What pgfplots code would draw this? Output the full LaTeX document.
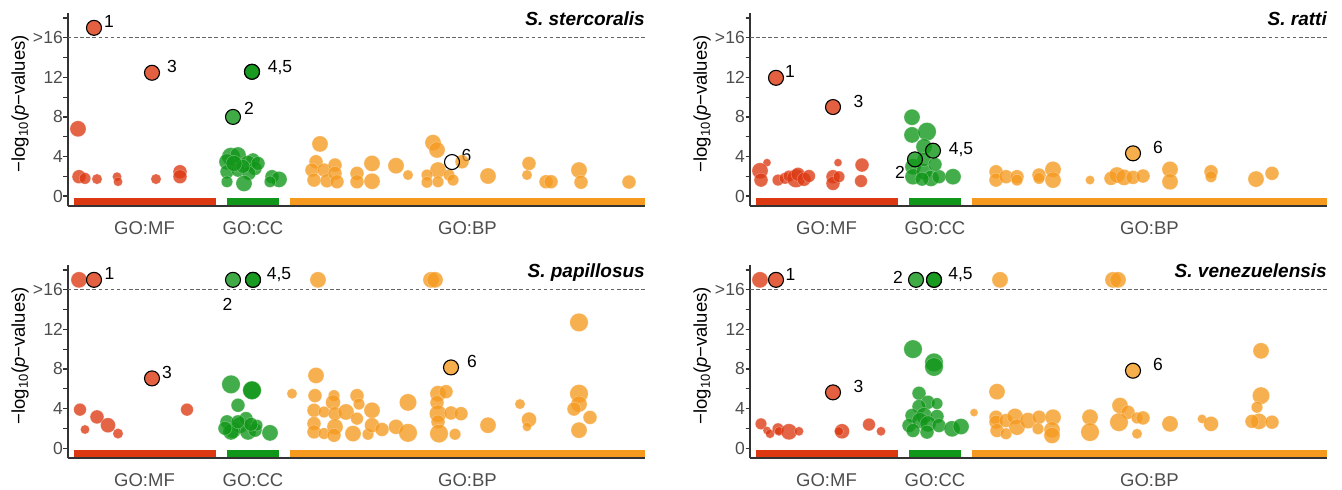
\documentclass[border=0pt]{standalone}
\usepackage{pgfplots}
\pgfplotsset{compat=1.18}
\usepackage{fontspec}
\setmainfont{Liberation Sans}
\definecolor{mfc}{HTML}{DC3912}
\definecolor{ccc}{HTML}{109618}
\definecolor{bpc}{HTML}{F59A1F}
\definecolor{axgrey}{HTML}{333333}
\definecolor{labgrey}{HTML}{4D4D4D}
\pgfplotsset{
 panel/.style={
  scale only axis, width=577pt, height=193pt, anchor=south west,
  xmin=0, xmax=577, ymin=-1, ymax=18.5,
  axis x line*=bottom, axis y line*=left,
  axis line style={line width=1.3pt, draw=axgrey, -},
  ytick={0,2,...,18}, yticklabels={0,,4,,8,,12,,>\kern0.5pt16,},
  xtick={76.5,185,399.5}, xticklabels={GO:MF,GO:CC,GO:BP},
  xtick style={draw=none},
  ytick style={line width=1.2pt, draw=axgrey},
  tick align=outside, major tick length=4.5pt,
  yticklabel style={font=\fontsize{17.5}{19}\selectfont, text=labgrey, xshift=3pt},
  xticklabel style={font=\fontsize{18.5}{20}\selectfont, text=labgrey, yshift=-8pt},
  ylabel={−log\textsubscript{10}(\textit{p}−values)},
  ylabel style={font=\fontsize{18.5}{20}\selectfont, at={(rel axis cs:-0.0832,0.53)}, anchor=center},
  clip=false,
 },
 pts/.style={scatter, only marks, mark=*,
  scatter/use mapped color={draw=white, fill=#1},
  mark options={fill opacity=0.78, draw opacity=0.35, line width=0.5pt},
  visualization depends on={1.15*\thisrow{r}\as\rr},
  scatter/@pre marker code/.append style={/tikz/mark size=\rr pt}},
 hl/.style={only marks, mark=*, mark size=7.5pt,
  mark options={fill=#1, fill opacity=0.8, draw=black, draw opacity=1, line width=1.1pt}},
}
\tikzset{lab/.style={font=\fontsize{17.5}{18}\selectfont, anchor=base, text=black, inner sep=0pt},
 ttl/.style={anchor=north east, inner sep=0pt, yshift=1pt, font=\fontsize{19}{20}\selectfont\bfseries\itshape}}
\newcommand\commonbits{%
 \addplot[fill=mfc, draw=none] coordinates {(6,-0.22) (148,-0.22) (148,-0.9) (6,-0.9)};
 \addplot[fill=ccc, draw=none] coordinates {(159,-0.22) (211,-0.22) (211,-0.9) (159,-0.9)};
 \addplot[fill=bpc, draw=none] coordinates {(222,-0.22) (577,-0.22) (577,-0.9) (222,-0.9)};
 \addplot[draw=gray!80!black, line width=1.3pt, dash pattern=on 3.5pt off 2.6pt] coordinates {(0,16) (577,16)};
}
\begin{document}
\begin{tikzpicture}
\useasboundingbox (0pt,0pt) rectangle (1342pt,490pt);
% ---------------- Panel 1: S. stercoralis
\begin{axis}[panel, at={(68pt,284pt)}]
\commonbits
\addplot[pts=mfc] table {
x y r
10 6.8 7
11 1.96 6
17 1.79 5
29 1.72 4.5
49 1.96 4
50 1.45 4
88 1.72 4.5
112 2.46 6
112 1.96 6
};
\addplot[pts=ccc] table {
x y r
163 3.98 8
170 4.15 7
185 3.65 6
159 3.47 7
180 3.3 7
187 2.8 6
159 2.46 6
170 2.63 6
181 2.3 6
159 1.45 5
176 1.28 7
175 3.0 6
166 3.3 7
190 3.3 6
204 1.96 6
211 1.69 7
202 1.45 5
};
\addplot[pts=bpc] table {
x y r
252 5.27 7
248 3.47 6
244 2.63 6
256 2.63 6
246 1.62 6
259 1.55 6
267 3.14 6
267 2.3 6
269 1.45 6
289 2.3 6
289 1.45 6
304 3.3 7
304 1.5 7
328 3.07 7
340 2.13 4.5
365 5.4 7
369 4.66 7
370 2.63 7
359 2.13 5
359 1.4 5
370 1.45 5
381 2.13 5
394 3.47 6
385 1.62 5
420 2.03 7
461 3.3 6
459 2.13 4.5
478 1.45 6
483 1.45 6
511 2.63 7
513 1.4 6
561 1.42 6
};
\addplot[hl=mfc] coordinates {(26,17) (84,12.46)};
\addplot[hl=ccc] coordinates {(165,8.0) (184,12.56) (184,12.56)};
\addplot[only marks, mark=o, mark size=7.5pt, mark options={draw=black, line width=1.1pt}] coordinates {(384,3.44)};
\node[lab] at (axis cs:41,17.0) {1};
\node[lab] at (axis cs:104,12.46) {3};
\node[lab] at (axis cs:212,12.46) {4,5};
\node[lab] at (axis cs:181,8.2) {2};
\node[lab] at (axis cs:398.5,3.54) {6};
\node[ttl] at (rel axis cs:1,1) {S. stercoralis};
\end{axis}
% ---------------- Panel 2: S. ratti
\begin{axis}[panel, at={(750pt,284pt)}]
\commonbits
\addplot[pts=mfc] table {
x y r
17 3.38 3.5
10 2.56 7
11 1.62 6
28 1.62 5
35 1.8 5
39 2.03 5
46 1.79 8
48 2.2 6
54 1.7 6
59 2.03 5.5
83 1.96 6
83 1.28 6
89 1.96 5
88 3.38 3.5
112 3.14 6
111 1.52 5.5
};
\addplot[pts=ccc] table {
x y r
162 7.97 7
162 6.18 7
177 6.51 8
174 4.99 7
163 2.97 7
163 1.96 7
174 2.46 7
181 1.79 7
189 1.96 6
172 1.72 6
203 1.96 7
174 3.7 6
185 3.2 6
};
\addplot[pts=bpc] table {
x y r
246 2.46 6
246 1.62 6
256 1.96 6
267 1.96 6
267 1.62 5
289 2.13 6
303 2.7 7
303 1.62 7
289 1.79 5
340 1.62 4
361 1.79 6
367 2.13 7
374 1.89 7
383 1.89 6
393 2.03 6
420 2.7 7
420 1.45 7
461 2.46 6
461 1.96 5
506 1.72 7
522 2.3 6
};
\addplot[hl=mfc] coordinates {(26,11.95) (83,9.0)};
\addplot[hl=ccc] coordinates {(165,3.71) (183,4.59)};
\addplot[hl=bpc] coordinates {(383,4.32)};
\node[lab] at (axis cs:40,11.95) {1};
\node[lab] at (axis cs:108.5,9.0) {3};
\node[lab] at (axis cs:211,4.25) {4,5};
\node[lab] at (axis cs:150,1.82) {2};
\node[lab] at (axis cs:408,4.35) {6};
\node[ttl] at (rel axis cs:1,1) {S. ratti};
\end{axis}
% ---------------- Panel 3: S. papillosus
\begin{axis}[panel, at={(68pt,32pt)}]
\commonbits
\addplot[pts=mfc] table {
x y r
11 17 7
12 3.89 5.5
29 3.15 6
40 2.31 6.5
17 1.88 4
50 1.47 4.5
119 3.89 5.5
};
\addplot[pts=ccc] table {
x y r
163 6.44 8
184 5.84 8
184 5.84 8
170 4.33 6
159 2.65 6
165 1.81 7
172 2.31 7
178 2.98 6
180 1.64 7
187 1.81 6
163 1.64 7
170 2.65 6
189 2.31 5
157 2.0 6
183 2.4 6
202 1.54 7
};
\addplot[pts=bpc] table {
x y r
250 17 7
363 17 7
367 17 7
511 12.7 8
224 5.5 4.5
248 7.34 7
247 5.3 6
246 3.82 6
246 2.48 6
246 1.64 6
256 3.65 5
256 1.47 5
266 5.3 5
265 4.62 6.5
267 3.48 6
267 2.15 7
266 1.3 6
278 3.65 7
289 5.3 6
291 4.45 5
289 2.98 5.5
285 1.47 7
300 1.4 5
304 3.82 7
304 2.31 6.5
314 1.88 6
328 2.15 6.5
340 4.62 7.5
340 1.54 8
370 5.5 7
378 5.7 6
369 4.6 6
370 3.48 7.5
370 2.65 6
371 1.47 8
383 3.55 6
393 3.48 6
387 1.4 5
420 2.31 7
452 4.45 4.5
461 2.88 6.5
459 2.15 4
511 5.5 8
511 4.45 7
506 3.95 6
522 3.1 6
511 1.81 7
};
\addplot[hl=mfc] coordinates {(26,17) (84,7.04)};
\addplot[hl=ccc] coordinates {(165,17) (185,17) (185,17)};
\addplot[hl=bpc] coordinates {(383,8.15)};
\node[lab] at (axis cs:41.5,17.0) {1};
\node[lab] at (axis cs:211,17.0) {4,5};
\node[lab] at (axis cs:159.5,13.9) {2};
\node[lab] at (axis cs:99,7.04) {3};
\node[lab] at (axis cs:404,8.15) {6};
\node[ttl] at (rel axis cs:1,1) {S. papillosus};
\end{axis}
% ---------------- Panel 4: S. venezuelensis
\begin{axis}[panel, at={(750pt,32pt)}]
\commonbits
\addplot[pts=mfc] table {
x y r
10 17 7
11 2.45 5
17 1.78 3.5
20 1.45 4
28 1.95 5
29 1.7 4
39 1.65 7
49 1.7 4
92 1.7 6.5
89 1.7 4
119 2.38 5.5
131 1.7 4
};
\addplot[pts=ccc] table {
x y r
163 10.0 8
184 8.66 8
184 8.2 8
169 5.54 6
178 4.63 6
187 4.5 5
169 4.2 6
162 3.29 6
174 3.29 7
187 3.2 6
159 2.28 6
170 2.78 7
178 2.45 7
189 2.28 6
163 1.78 6
177 1.62 6
202 1.95 7
211 2.18 7
};
\addplot[pts=bpc] table {
x y r
250 17 7
363 17 7
368 17 7
224 3.59 3.5
247 5.7 7
246 3.12 6
246 2.62 6
247 1.78 6
256 1.45 5
256 2.78 6
265 3.2 7
267 2.12 7
278 2.78 7
289 3.12 6
288 1.95 5
303 3.12 7
302 1.85 7
302 1.28 7
340 3.12 7
340 1.62 8
370 4.3 7
378 3.62 6
369 2.62 8
387 3.05 5
393 3.05 6
387 1.45 4.5
420 2.45 7
452 2.95 4
461 2.45 6.5
511 9.83 7
511 5.3 7.5
507 4.13 5
509 2.7 7
522 2.62 6
502 2.7 6
};
\addplot[hl=mfc] coordinates {(26,17) (83,5.63)};
\addplot[hl=ccc] coordinates {(166,17) (184,17) (184,17)};
\addplot[hl=bpc] coordinates {(383,7.82)};
\node[lab] at (axis cs:40.5,16.97) {1};
\node[lab] at (axis cs:148,16.67) {2};
\node[lab] at (axis cs:210.5,17.07) {4,5};
\node[lab] at (axis cs:108.5,5.6) {3};
\node[lab] at (axis cs:408,7.82) {6};
\node[ttl] at (rel axis cs:1,1) {S. venezuelensis};
\end{axis}
\end{tikzpicture}
\end{document}
